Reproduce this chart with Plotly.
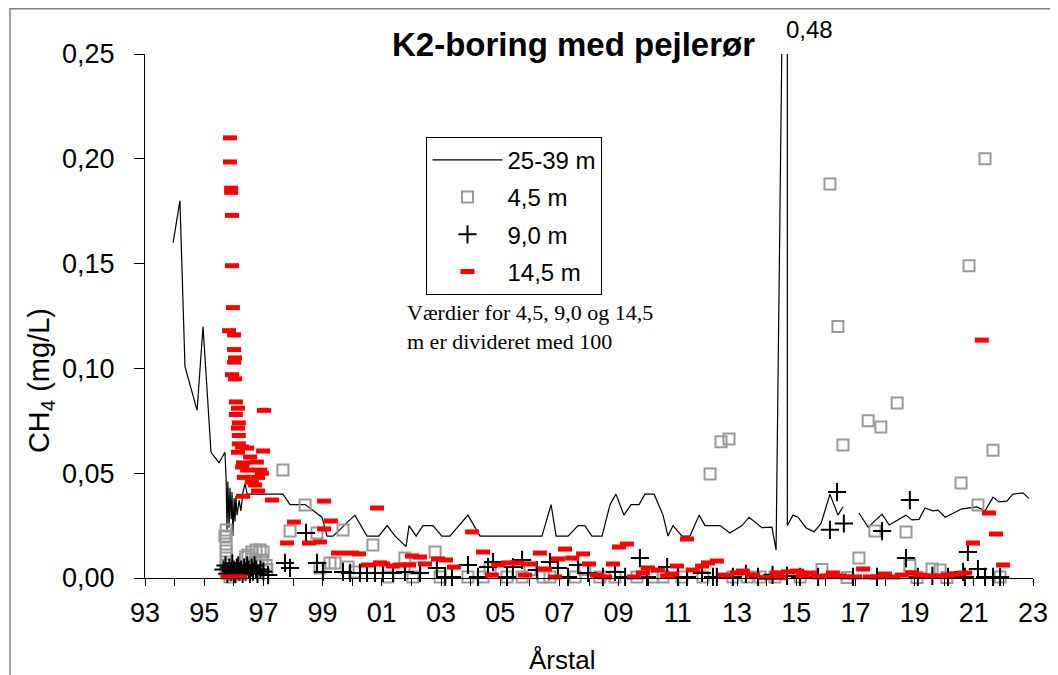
import plotly.graph_objects as go

# 25-39 m (linje)
line_year = [1993.95, 1994.18, 1994.35, 1994.76, 1994.96, 1995.23, 1995.50, 1995.70,
             1995.74, 1995.77, 1995.80, 1995.84, 1995.87, 1995.91, 1995.94, 1995.97,
             1996.01, 1996.04, 1996.07, 1996.11, 1996.18, 1996.24, 1996.31, 1996.38,
             1996.45, 1997.66, 1997.90, 1998.41, 1998.98, 1999.15, 1999.35, 2000.09,
             2000.50, 2000.90, 2001.18, 2001.45, 2001.82, 2001.92, 2002.16, 2002.39,
             2002.73, 2003.03, 2003.30, 2003.91, 2004.32, 2006.41, 2006.72, 2006.89,
             2007.29, 2007.63, 2007.86, 2008.10, 2008.44, 2008.71, 2008.91, 2009.18,
             2009.42, 2009.69, 2009.89, 2010.20, 2010.50, 2010.67, 2010.84, 2011.14,
             2011.41, 2011.72, 2011.92, 2012.43, 2012.76, 2013.17, 2013.41, 2013.84,
             2014.18, 2014.32, 2014.70, 2014.70, 2014.89, 2015.06, 2015.33, 2015.60,
             2015.84, 2016.14, 2016.41, 2016.58, None, 2017.12, 2017.43, 2017.90,
             2018.14, 2018.71, 2018.91, 2019.15, 2019.35, 2019.62, 2019.79, 2020.03,
             2020.60, 2021.11, 2021.38, 2021.65, 2021.85, 2022.12, 2022.32, 2022.66,
             2022.86]
line_val = [0.160, 0.180, 0.101, 0.080, 0.120, 0.060, 0.055, 0.060,
            0.048, 0.023, 0.046, 0.024, 0.043, 0.028, 0.041, 0.020,
            0.038, 0.027, 0.039, 0.030, 0.037, 0.032, 0.041, 0.045,
            0.040, 0.040, 0.035, 0.035, 0.029, 0.020, 0.020, 0.030,
            0.020, 0.020, 0.025, 0.020, 0.015, 0.025, 0.020, 0.025,
            0.025, 0.020, 0.020, 0.030, 0.020, 0.020, 0.035, 0.020,
            0.020, 0.025, 0.025, 0.020, 0.020, 0.035, 0.040, 0.030,
            0.035, 0.035, 0.040, 0.040, 0.030, 0.020, 0.025, 0.020,
            0.020, 0.030, 0.025, 0.025, 0.0215, 0.025, 0.029, 0.024,
            0.0243, 0.0134, 0.48, 0.025, 0.030, 0.029, 0.024, 0.022,
            0.026, 0.040, 0.030, 0.034, None, 0.031, 0.0243, 0.0305,
            0.0253, 0.030, 0.0277, 0.028, 0.0334, 0.032, 0.0324, 0.029,
            0.033, 0.0339, 0.032, 0.0386, 0.0363, 0.0367, 0.040, 0.0406,
            0.038]

# 4,5 m (divideret med 100)
sq_year = [1995.74, 1995.74, 1995.74, 1995.74, 1995.74, 1995.74, 1995.74, 1995.70,
           1996.48, 1996.61, 1996.75, 1996.89, 1996.99, 1996.55, 1996.72, 1996.82,
           1996.95, 1997.09, 1996.34, 1996.14, 1995.97, 1995.87, 1996.60, 1996.40,
           1997.12, 1997.66, 1997.90, 1998.41, 1998.81, 1998.91, 1999.25, 1999.42,
           1999.69, 1999.86, 2000.09, 2000.70, 2001.21, 2001.78, 2002.05, 2002.12,
           2002.80, 2002.97, 2003.91, 2004.42, 2004.66, 2005.23, 2005.74, 2006.01,
           2006.45, 2006.68, 2007.53, 2007.86, 2008.37, 2008.88, 2009.62, 2010.16,
           2010.50, 2011.14, 2011.85, 2012.09, 2012.46, 2012.73, 2012.86, 2013.34,
           2013.78, 2014.28, 2015.13, 2015.87, 2016.14, 2016.41, 2016.58, 2016.72,
           2017.12, 2017.43, 2017.66, 2017.86, 2018.41, 2018.71, 2018.84, 2019.08,
           2019.59, 2019.86, 2020.09, 2020.57, 2020.84, 2021.14, 2021.38, 2021.65,
           2021.89]
sq_val = [0.0229, 0.0196, 0.0162, 0.0129, 0.0095, 0.0062, 0.0033, 0.020,
          0.011, 0.0124, 0.0134, 0.0134, 0.0124, 0.006, 0.0076, 0.006,
          0.0086, 0.006, 0.004, 0.003, 0.0014, 0.0005, 0.009, 0.010,
          0.004, 0.0515, 0.0224, 0.0348, 0.0215, 0.0048, 0.0072, 0.0072,
          0.0229, 0.0052, 0.0029, 0.0157, 0.0005, 0.0095, 0.0005, 0.0048,
          0.0124, 0.0005, 0.0005, 0.0005, 0.0048, 0.0005, 0.0005, 0.004,
          0.0005, 0.0005, 0.0005, 0.004, 0.0005, 0.0005, 0.0005, 0.0005,
          0.0005, 0.0005, 0.0005, 0.0496, 0.065, 0.0663, 0.0005, 0.0005,
          0.0005, 0.0005, 0.0005, 0.004, 0.188, 0.120, 0.0635, 0.0002,
          0.0095, 0.075, 0.0224, 0.072, 0.0835, 0.022, 0.006, 0.0002,
          0.0043, 0.0038, 0.0002, 0.0453, 0.149, 0.0348, 0.200, 0.061,
          0.0005]

# 9,0 m (divideret med 100)
plus_year = [1995.65, 1995.72, 1995.78, 1995.85, 1995.90, 1995.95, 1996.00, 1996.05,
             1996.10, 1996.15, 1996.20, 1996.25, 1996.30, 1996.35, 1996.40, 1996.45,
             1996.50, 1996.55, 1996.60, 1996.65, 1996.70, 1996.75, 1996.80, 1996.90,
             1997.00, 1997.16, 1997.73, 1997.90, 1998.44, 1998.81, 1999.01, 1999.69,
             1999.93, 2000.26, 2000.50, 2000.77, 2001.04, 2001.38, 2001.78, 2002.29,
             2002.86, 2003.14, 2003.37, 2003.91, 2004.25, 2004.59, 2004.76, 2005.23,
             2005.43, 2005.74, 2006.24, 2006.68, 2006.95, 2007.29, 2007.63, 2007.97,
             2008.47, 2008.88, 2009.22, 2009.72, 2009.96, 2010.64, 2011.01, 2011.31,
             2011.82, 2012.19, 2012.32, 2012.86, 2013.30, 2013.71, 2014.20, 2014.69,
             2015.13, 2015.74, 2016.14, 2016.38, 2016.61, 2016.92, 2017.73, 2017.90,
             2018.71, 2018.84, 2019.11, 2019.60, 2020.13, 2020.64, 2020.70, 2020.80,
             2021.14, 2021.38, 2021.65, 2021.89]
plus_val = [0.004, 0.006, 0.002, 0.005, 0.003, 0.007, 0.004, 0.002,
            0.005, 0.006, 0.003, 0.004, 0.002, 0.005, 0.003, 0.006,
            0.004, 0.002, 0.005, 0.003, 0.006, 0.004, 0.002, 0.004,
            0.003, 0.0014, 0.0072, 0.0048, 0.0215, 0.0072, 0.0029, 0.0029,
            0.0024, 0.0024, 0.0024, 0.0024, 0.0024, 0.0024, 0.0029, 0.0024,
            0.0048, 0.0005, 0.0005, 0.0062, 0.0005, 0.0052, 0.0076, 0.0005,
            0.0052, 0.0086, 0.0038, 0.0076, 0.0048, 0.0005, 0.0062, 0.0024,
            0.0005, 0.0029, 0.0005, 0.0095, 0.0005, 0.0052, 0.0005, 0.0005,
            0.0024, 0.0005, 0.0005, 0.0005, 0.002, 0.0005, 0.0015, 0.001,
            0.0005, 0.0005, 0.023, 0.041, 0.026, 0.0005, 0.0005, 0.0224,
            0.0095, 0.0372, 0.0005, 0.001, 0.0005, 0.0029, 0.0005, 0.0124,
            0.0043, 0.0005, 0.0005, 0.0005]

# 14,5 m (divideret med 100)
red_year = [1995.87, 1995.87, 1995.91, 1995.91, 1995.94, 1995.94, 1995.97, 1995.84,
            1996.01, 1996.01, 1996.04, 1996.01, 1995.94, 1996.04, 1996.07, 1996.14,
            1996.07, 1997.02, 1996.17, 1996.14, 1996.17, 1996.17, 1996.28, 1996.14,
            1996.45, 1996.99, 1996.55, 1996.78, 1996.31, 1996.28, 1996.45, 1996.89,
            1996.95, 1996.34, 1996.82, 1996.61, 1996.72, 1996.82, 1996.31, 1997.29,
            1999.05, 2000.84, 1998.03, 1999.28, 1999.05, 1997.80, 1998.54, 1998.91,
            1999.52, 1999.99, 2000.23, 2000.53, 2000.94, 1995.80, 1996.01, 1996.21,
            2001.04, 2001.38, 2001.61, 2001.92, 2002.02, 2002.29, 2002.46, 2002.90,
            2003.17, 2003.44, 2004.05, 2004.42, 2004.72, 2004.93, 2005.26, 2005.57,
            2005.84, 2006.01, 2006.34, 2006.51, 2006.85, 2006.95, 2007.19, 2007.43,
            2007.80, 2008.00, 2008.27, 2008.54, 2008.81, 2009.01, 2009.28, 2009.52,
            2009.82, 2009.99, 2010.33, 2010.64, 2010.80, 2010.97, 2011.31, 2011.51,
            2011.82, 2012.02, 2012.32, 2012.59, 2013.00, 2013.20, 2013.54, 2013.95,
            2014.35, 2014.45, 2014.72, 2015.03, 2015.23, 2015.47, 2015.74, 2016.04,
            2016.24, 2016.48, 2016.72, 2016.99, 2017.26, 2017.49, 2017.73, 2018.00,
            2018.27, 2018.57, 2018.91, 2019.18, 2019.52, 2019.86, 2020.13, 2020.43,
            2020.70, 2020.97, 2021.27, 2021.51, 2021.75, 2021.99]
red_val = [0.210, 0.1985, 0.186, 0.184, 0.173, 0.149, 0.129, 0.118,
           0.116, 0.109, 0.105, 0.103, 0.097, 0.095, 0.084, 0.081,
           0.078, 0.080, 0.074, 0.0715, 0.068, 0.064, 0.0625, 0.060,
           0.062, 0.0606, 0.0577, 0.0553, 0.0549, 0.053, 0.0515, 0.0515,
           0.050, 0.048, 0.048, 0.0458, 0.0444, 0.0415, 0.039, 0.0372,
           0.0367, 0.0334, 0.0267, 0.0272, 0.0234, 0.0167, 0.0167, 0.0172,
           0.0119, 0.0119, 0.0115, 0.0062, 0.0072, 0.0005, 0.0005, 0.0005,
           0.0067, 0.0057, 0.0062, 0.0062, 0.0105, 0.010, 0.0067, 0.0091,
           0.0086, 0.0052, 0.022, 0.0124, 0.0014, 0.0062, 0.0072, 0.0072,
           0.0014, 0.0067, 0.0119, 0.0043, 0.0005, 0.0091, 0.0138, 0.0095,
           0.0115, 0.0067, 0.0014, 0.0005, 0.0067, 0.0148, 0.0162, 0.0005,
           0.0024, 0.0048, 0.0038, 0.001, 0.0019, 0.0057, 0.0186, 0.0038,
           0.0057, 0.0072, 0.0081, 0.0014, 0.0024, 0.0033, 0.0014, 0.0002,
           0.0024, 0.0002, 0.0029, 0.0033, 0.001, 0.0024, 0.0005, 0.001,
           0.0024, 0.001, 0.0005, 0.0005, 0.0043, 0.0005, 0.0005, 0.0019,
           0.0005, 0.0014, 0.0024, 0.0014, 0.001, 0.001, 0.0014, 0.0019,
           0.0024, 0.0167, 0.1135, 0.031, 0.021, 0.0062]

x_ticks = [1993, 1995, 1997, 1999, 2001, 2003, 2005, 2007, 2009, 2011, 2013, 2015, 2017, 2019, 2021, 2023]
x_labels = ['93', '95', '97', '99', '01', '03', '05', '07', '09', '11', '13', '15', '17', '19', '21', '23']
y_ticks = [0, 0.05, 0.10, 0.15, 0.20, 0.25]
y_labels = ['0,00', '0,05', '0,10', '0,15', '0,20', '0,25']

FONT = 'Liberation Sans, Arial, sans-serif'

fig = go.Figure()

fig.add_trace(go.Scatter(x=line_year, y=line_val, mode='lines', name='25-39 m',
                         line=dict(color='black', width=1.2), legendgroup='a'))
fig.add_trace(go.Scatter(x=sq_year, y=sq_val, mode='markers', name='4,5 m', cliponaxis=False,
                         marker=dict(symbol='square-open', size=11, color='#999999',
                                     line=dict(color='#999999', width=2)),
                         legendgroup='b'))
fig.add_trace(go.Scatter(x=plus_year, y=plus_val, mode='markers', name='9,0 m', cliponaxis=False,
                         marker=dict(symbol='cross-thin-open', size=13, color='black',
                                     line=dict(color='black', width=2)),
                         legendgroup='c'))
fig.add_trace(go.Scatter(x=red_year, y=red_val, mode='markers', name='14,5 m', cliponaxis=False,
                         marker=dict(symbol='line-ew-open', size=10, color='red',
                                     line=dict(color='red', width=5)),
                         legendgroup='d'))

# siden har 8px margin om figuren, derfor flyttes alt 8px
fig.update_layout(
    width=1050, height=675,
    margin=dict(l=137, r=25, t=46, b=105),
    paper_bgcolor='white', plot_bgcolor='white',
    font=dict(family=FONT, color='black'),
    showlegend=True,
    legend=dict(x=0.317, y=0.842, xanchor='left', yanchor='top',
                bordercolor='black', borderwidth=1, bgcolor='white',
                font=dict(size=24), tracegroupgap=3, itemwidth=70),
)

fig.update_xaxes(range=[1993, 2023], showline=True, linecolor='black', linewidth=1,
                 ticks='outside', ticklen=7, tickcolor='black', automargin=False,
                 tickvals=x_ticks, ticktext=x_labels, tickfont=dict(size=27),
                 ticklabelstandoff=4,
                 minor=dict(ticks='outside', ticklen=7, dtick=1, tick0=1993, tickcolor='black'),
                 showgrid=False, zeroline=False)
fig.update_yaxes(range=[0, 0.25], showline=True, linecolor='black', linewidth=1,
                 ticks='outside', ticklen=10, tickcolor='black', automargin=False,
                 tickvals=y_ticks, ticktext=y_labels, tickfont=dict(size=27),
                 ticklabelstandoff=14,
                 showgrid=False, zeroline=False)

# ramme rundt om diagrammet
fig.add_shape(type='rect', xref='paper', yref='paper', x0=-0.152, x1=1.05, y0=-0.2, y1=1.0865,
              line=dict(color='#808080', width=1.5), layer='below')

fig.add_annotation(text='<b>K2-boring med pejlerør</b>', xref='paper', yref='paper',
                   x=0.483, y=1.019, xanchor='center', yanchor='middle',
                   showarrow=False, font=dict(size=33))
fig.add_annotation(text='0,48', xref='paper', yref='paper', x=0.748, y=1.046,
                   xanchor='center', yanchor='middle', showarrow=False, font=dict(size=24))
fig.add_annotation(text='Værdier for 4,5, 9,0 og 14,5<br>m er divideret med 100',
                   xref='paper', yref='paper', x=0.293, y=0.535, xanchor='left', yanchor='top',
                   align='left', showarrow=False,
                   font=dict(family='Liberation Serif, Times New Roman, serif', size=22))
fig.add_annotation(text='CH<sub>4</sub> (mg/L)', xref='paper', yref='paper', x=-0.117, y=0.376,
                   xanchor='center', yanchor='middle',
                   textangle=-90, showarrow=False, font=dict(size=29))
fig.add_annotation(text='Årstal', xref='paper', yref='paper', x=0.47, y=-0.156,
                   xanchor='center', yanchor='middle', showarrow=False, font=dict(size=26))

fig.write_html("out.html")
